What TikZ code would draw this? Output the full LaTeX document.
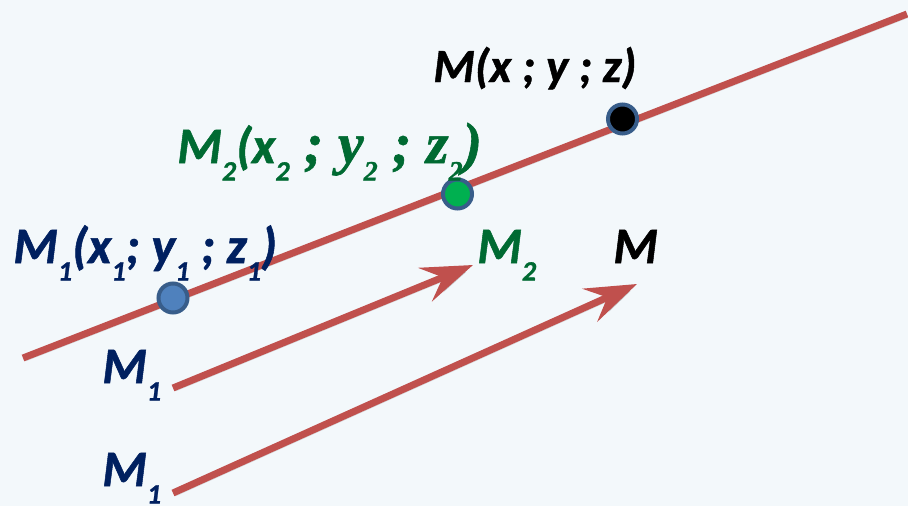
\documentclass[tikz,border=0pt]{standalone}
\usepackage{fontspec}
\setmainfont{Carlito}[BoldItalicFeatures={FakeBold=1}]
\newfontfamily\serifpart{Liberation Serif}[BoldItalicFeatures={FakeBold=1}]
\usetikzlibrary{arrows.meta}
\definecolor{linered}{HTML}{C0504D}
\definecolor{navy}{HTML}{002060}
\definecolor{darkgreen}{HTML}{006A32}
\definecolor{ptblue}{HTML}{4F81BD}
\definecolor{ptedge}{HTML}{385D8A}
\definecolor{ptgreen}{HTML}{00B050}
\definecolor{bgblue}{HTML}{F3F8FB}
\newcommand{\subidx}[1]{\raisebox{-10pt}{\fontsize{16}{16}\selectfont #1}}

\begin{document}
\begin{tikzpicture}[
  every node/.style={font=\fontsize{29}{33}\selectfont\bfseries\itshape, inner sep=0pt},
  redline/.style={line width=0.14cm, linered, preaction={draw=black, opacity=0.12, transform canvas={shift={(0.05,-0.06)}}}},
  vec/.style={redline, -{Stealth[length=1.03cm, width=0.72cm, inset=0.38cm]}},
  pt/.style={circle, draw=ptedge, line width=0.08cm, minimum size=0.58cm}]
  \fill[bgblue] (0,0) rectangle (18.16,10.12);
  \useasboundingbox (0,0) rectangle (18.16,10.12);
  % the line through M1, M2, M
  \coordinate (lineS) at (0.46,2.96);
  \coordinate (lineE) at (18.14,9.84);
  \draw[redline] (lineS) -- (lineE);
  \node[pt, fill=ptblue] (pM1) at (3.46,4.16) {};
  \node[pt, fill=ptgreen] (pM2) at (9.15,6.24) {};
  \node[pt, fill=black] (pM) at (12.45,7.74) {};
  \node[anchor=base west, navy] (lbM1) at (0.26,4.86) {M\subidx{1}(x\subidx{1}; y\subidx{1} ; z\subidx{1})};
  \node[anchor=base west, darkgreen] (lbM2) at (3.54,6.86) {M\subidx{2}(x\subidx{2}{\serifpart\fontsize{33}{37}\selectfont\ ; y\subidx{2} ; z\subidx{2})}};
  \node[anchor=base west, black, font=\fontsize{27}{32}\selectfont\bfseries\itshape] (lbM) at (8.66,8.48) {M(x ; y ; z)};
  % vectors M1M2 and M1M
  \coordinate (a1s) at (3.46,2.36);
  \coordinate (a1e) at (9.46,4.82);
  \coordinate (a2s) at (3.46,0.26);
  \coordinate (a2e) at (12.74,4.44);
  \draw[vec] (a1s) -- (a1e);
  \draw[vec] (a2s) -- (a2e);
  \node[anchor=base west, navy] (tM1a) at (2.04,2.46) {M\subidx{1}};
  \node[anchor=base west, navy] (tM1b) at (2.04,0.40) {M\subidx{1}};
  \node[anchor=base west, darkgreen] (tM2) at (9.54,4.86) {M\subidx{2}};
  \node[anchor=base west, black] (tM) at (12.26,4.86) {M};
\end{tikzpicture}
\end{document}
